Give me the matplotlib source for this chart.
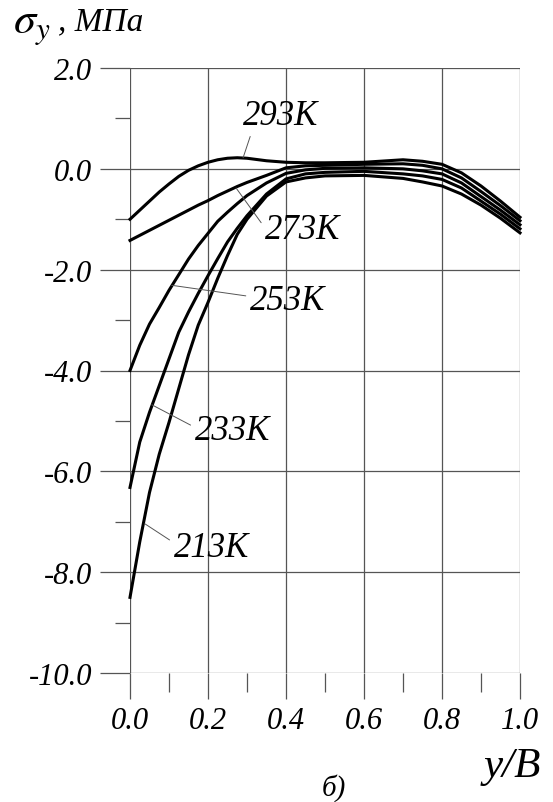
import matplotlib
matplotlib.use("Agg")
import matplotlib.pyplot as plt
from matplotlib.ticker import MultipleLocator, FormatStrFormatter

# relative coordinate y/B
y_over_b = [0.0, 0.025, 0.05, 0.075, 0.1, 0.125, 0.15, 0.175, 0.2, 0.225, 0.25, 0.275,
            0.3, 0.35, 0.4, 0.45, 0.5, 0.6, 0.7, 0.75, 0.8, 0.85, 0.9, 0.95, 1.0]

# sigma_y, MPa
sigma_293 = [-1.0, -0.82, -0.64, -0.46, -0.3, -0.15, -0.03, 0.06, 0.13, 0.18, 0.21, 0.22,
             0.21, 0.16, 0.13, 0.12, 0.12, 0.13, 0.18, 0.15, 0.09, -0.08, -0.34, -0.64, -0.96]
sigma_273 = [-1.42, -1.32, -1.22, -1.12, -1.02, -0.92, -0.82, -0.72, -0.63, -0.53, -0.44, -0.35,
             -0.27, -0.13, 0.02, 0.06, 0.07, 0.09, 0.1, 0.07, 0.0, -0.18, -0.45, -0.73, -1.03]
sigma_253 = [-4.0, -3.5, -3.08, -2.75, -2.41, -2.1, -1.79, -1.52, -1.28, -1.04, -0.86, -0.69,
             -0.53, -0.28, -0.09, -0.02, 0.01, 0.02, 0.0, -0.04, -0.1, -0.28, -0.55, -0.82, -1.11]
sigma_233 = [-6.32, -5.42, -4.83, -4.3, -3.77, -3.24, -2.84, -2.47, -2.12, -1.78, -1.45, -1.18,
             -0.93, -0.5, -0.2, -0.1, -0.07, -0.05, -0.1, -0.14, -0.21, -0.38, -0.64, -0.9, -1.19]
sigma_213 = [-8.5, -7.4, -6.42, -5.66, -5.03, -4.36, -3.69, -3.1, -2.65, -2.17, -1.72, -1.3,
             -1.0, -0.54, -0.26, -0.18, -0.14, -0.13, -0.19, -0.26, -0.34, -0.5, -0.72, -0.98, -1.27]

curves = [sigma_293, sigma_273, sigma_253, sigma_233, sigma_213]
curve_names = ["293K", "273K", "253K", "233K", "213K"]

# where the leader touches the curve / where the label sits / which side of the label
leader_points = [(0.29, 0.22), (0.272, -0.38), (0.107, -2.31), (0.056, -4.68), (0.038, -7.04)]
label_points = [(0.385, 1.05), (0.442, -1.2), (0.404, -2.61), (0.262, -5.19), (0.208, -7.51)]
label_relpos = [(0.12, 0.0), (0.0, 0.55), (0.0, 0.62), (0.0, 0.6), (0.0, 0.65)]

plt.rcParams["font.family"] = ["Liberation Serif", "DejaVu Serif"]
plt.rcParams["font.style"] = "italic"
plt.rcParams["mathtext.fontset"] = "stix"
plt.rcParams["axes.unicode_minus"] = False

GRID = "#555555"

fig = plt.figure(figsize=(5.53, 8.03), dpi=100)
ax = fig.add_axes([130 / 553, 129 / 803, 390 / 553, 605 / 803])

for sigma in curves:
    ax.plot(y_over_b, sigma, color="black", lw=2.2, clip_on=False, zorder=3)

for name, xy, xytext, rp in zip(curve_names, leader_points, label_points, label_relpos):
    ax.annotate(name, xy=xy, xytext=xytext, ha="center", va="center", fontsize=25,
                arrowprops=dict(arrowstyle="-", color="#555555", lw=0.7,
                                relpos=rp, shrinkA=1, shrinkB=0))

ax.set_xlim(0, 1)
ax.set_ylim(-10, 2)
for s in ax.spines.values():
    s.set_visible(False)

ax.xaxis.set_major_locator(MultipleLocator(0.2))
ax.xaxis.set_minor_locator(MultipleLocator(0.1))
ax.yaxis.set_major_locator(MultipleLocator(2))
ax.yaxis.set_minor_locator(MultipleLocator(1))
ax.xaxis.set_major_formatter(FormatStrFormatter("%.1f"))
ax.yaxis.set_major_formatter(FormatStrFormatter("%.1f"))

ax.grid(True, which="major", color=GRID, lw=0.9)
ax.tick_params(axis="y", which="major", direction="out", length=21.6, width=0.9,
               color=GRID, labelsize=22, pad=5.5)
ax.tick_params(axis="y", which="minor", direction="out", length=10.8, width=0.9, color=GRID)
ax.tick_params(axis="x", which="major", direction="out", length=18.7, width=0.9,
               color=GRID, labelsize=22, pad=5)
ax.tick_params(axis="x", which="minor", direction="out", length=13.7, width=0.9, color=GRID)

fig.text(13 / 553, 1 - 33 / 803, r"$\sigma_y$", fontsize=32, ha="left", va="baseline")
fig.text(58 / 553, 1 - 30 / 803, ", МПа", fontsize=24, ha="left", va="baseline")
fig.text(541 / 553, 1 - 777 / 803, "y/B", fontsize=31, ha="right", va="baseline")
fig.text(334 / 553, 1 - 788 / 803, "б)", fontsize=21, ha="center", va="center")

fig.savefig("out.png", dpi=100)
